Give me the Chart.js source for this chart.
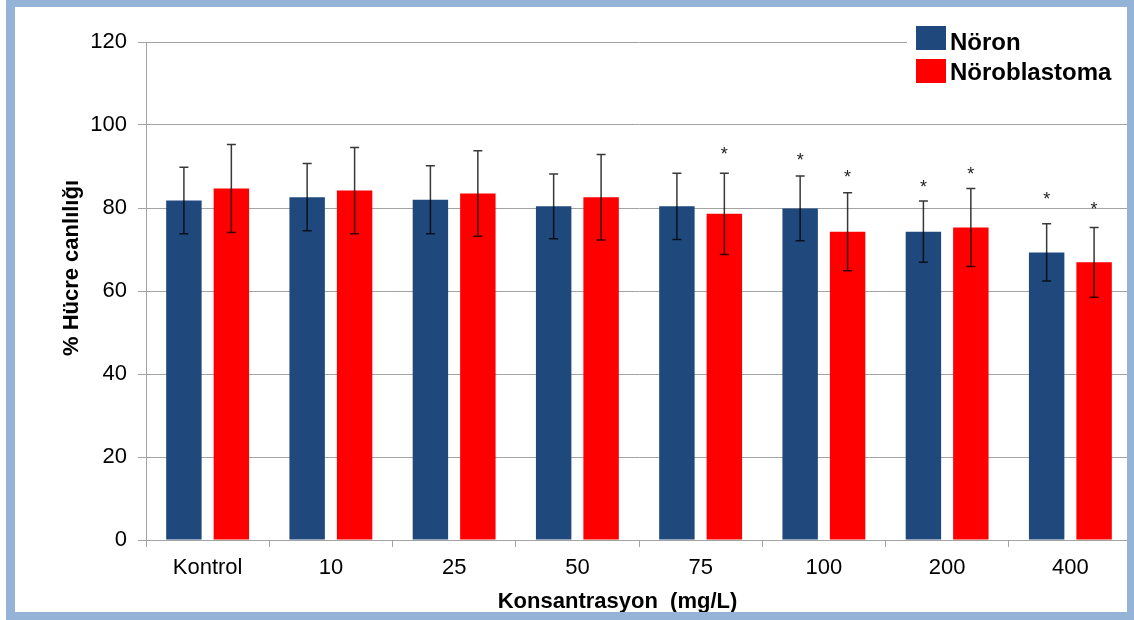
<!DOCTYPE html>
<html>
<head>
<meta charset="utf-8">
<script src="https://cdn.jsdelivr.net/npm/chart.js@4.4.1/dist/chart.umd.min.js"></script>
<style>
  html, body { margin: 0; padding: 0; background: #ffffff; width: 1134px; height: 620px; overflow: hidden; }
  #frame { position: absolute; left: 6px; top: 0; width: 1128px; height: 620px; background: #95B3D7; }
  #panel { position: absolute; left: 9px; top: 7px; width: 1112px; height: 605px; background: #ffffff; overflow: hidden; }
  #c { position: absolute; left: 0; top: 0; width: 1125px; height: 605px; }
</style>
</head>
<body>
<div id="frame"><div id="panel"><canvas id="c" width="1125" height="605"></canvas></div></div>
<script>
// ---- data ----
const categories = ['Kontrol', '10', '25', '50', '75', '100', '200', '400'];
const noron = [81.8, 82.6, 82.0, 80.4, 80.4, 79.9, 74.3, 69.3];
const noronErr = [8.0, 8.1, 8.2, 7.8, 8.0, 7.8, 7.4, 6.9];
const noroblastoma = [84.7, 84.2, 83.5, 82.6, 78.6, 74.3, 75.3, 66.9];
const noroblastomaErr = [10.6, 10.4, 10.3, 10.3, 9.8, 9.4, 9.4, 8.4];
// height (in % units) at which a significance star "*" is shown; null = none
const noronStar = [null, null, null, null, null, 92.6, 86.2, 83.1];
const noroblastomaStar = [null, null, null, null, 94.1, 88.4, 89.2, 80.7];
const yTicks = [0, 20, 40, 60, 80, 100, 120];
const seriesNames = ['Nöron', 'Nöroblastoma'];
const xTitle = 'Konsantrasyon  (mg/L)';
const yTitle = '% Hücre canlılığı';

const FONT = '"Liberation Sans", Arial, sans-serif';
const GRID = '#a3a3a3';

const errs = [noronErr, noroblastomaErr];
const stars = [noronStar, noroblastomaStar];

const extrasPlugin = {
  id: 'extras',
  afterDatasetsDraw(chart) {
    const ctx = chart.ctx;
    const ys = chart.scales.y;
    ctx.save();
    chart.data.datasets.forEach((ds, i) => {
      const meta = chart.getDatasetMeta(i);
      meta.data.forEach((el, j) => {
        const v = ds.data[j], e = errs[i][j];
        const x = el.x;
        const yt = ys.getPixelForValue(v + e);
        const yb = ys.getPixelForValue(v - e);
        ctx.strokeStyle = 'rgba(0,0,0,0.78)';
        ctx.lineWidth = 1.5;
        ctx.beginPath();
        ctx.moveTo(x, yt); ctx.lineTo(x, yb);
        ctx.moveTo(x - 4.5, yt); ctx.lineTo(x + 4.5, yt);
        ctx.moveTo(x - 4.5, yb); ctx.lineTo(x + 4.5, yb);
        ctx.stroke();
        const s = stars[i][j];
        if (s !== null) {
          ctx.fillStyle = '#222';
          ctx.font = '18px ' + FONT;
          ctx.textAlign = 'center';
          ctx.textBaseline = 'alphabetic';
          ctx.fillText('*', x, ys.getPixelForValue(s) + 10.3);
        }
      });
    });
    ctx.restore();
  },
  afterDraw(chart) {
    const ctx = chart.ctx;
    const ca = chart.chartArea;
    ctx.save();
    // axis titles
    ctx.fillStyle = '#000';
    ctx.font = 'bold 22px ' + FONT;
    ctx.textAlign = 'center';
    ctx.textBaseline = 'alphabetic';
    ctx.fillText(xTitle, 602.5, 601);
    ctx.translate(62.5, 261);
    ctx.rotate(-Math.PI / 2);
    ctx.fillText(yTitle, 0, 0);
    ctx.restore();
    // legend
    ctx.save();
    ctx.fillStyle = '#ffffff';
    ctx.fillRect(892, 10, 240, 78);
    const rows = [{ y: 19, h: 24, base: 43 }, { y: 52, h: 24, base: 73 }];
    chart.data.datasets.forEach((ds, i) => {
      ctx.fillStyle = ds.backgroundColor;
      ctx.fillRect(901, rows[i].y, 30, rows[i].h);
      ctx.fillStyle = '#000';
      ctx.font = 'bold 24px ' + FONT;
      ctx.textAlign = 'left';
      ctx.textBaseline = 'alphabetic';
      ctx.fillText(ds.label, 935, rows[i].base);
    });
    ctx.restore();
  }
};

new Chart(document.getElementById('c'), {
  type: 'bar',
  data: {
    labels: categories,
    datasets: [
      { label: seriesNames[0], data: noron, backgroundColor: '#1F497D', borderWidth: 0,
        categoryPercentage: 0.77, barPercentage: 0.747 },
      { label: seriesNames[1], data: noroblastoma, backgroundColor: '#FF0000', borderWidth: 0,
        categoryPercentage: 0.77, barPercentage: 0.747 }
    ]
  },
  options: {
    responsive: false,
    animation: false,
    devicePixelRatio: 1,
    layout: { padding: { left: 0, right: 8, top: 35, bottom: 0 } },
    plugins: { legend: { display: false }, tooltip: { enabled: false }, title: { display: false } },
    scales: {
      x: {
        offset: true,
        grid: { offset: true, drawOnChartArea: false, drawTicks: true, tickLength: 7, color: GRID, lineWidth: 1 },
        border: { display: true, color: GRID, width: 1 },
        ticks: { color: '#000', font: { family: FONT, size: 22 }, padding: 8, maxRotation: 0, autoSkip: false },
        afterFit(scale) { scale.height = 72; }
      },
      y: {
        min: 0, max: 120,
        afterBuildTicks(scale) { scale.ticks = yTicks.map(v => ({ value: v })); },
        grid: { color: GRID, lineWidth: 1, tickLength: 8, drawTicks: true },
        border: { display: true, color: GRID, width: 1 },
        ticks: { color: '#000', font: { family: FONT, size: 22 }, padding: 11 },
        afterFit(scale) { scale.width = 131; }
      }
    }
  },
  plugins: [extrasPlugin]
});
</script>
</body>
</html>
